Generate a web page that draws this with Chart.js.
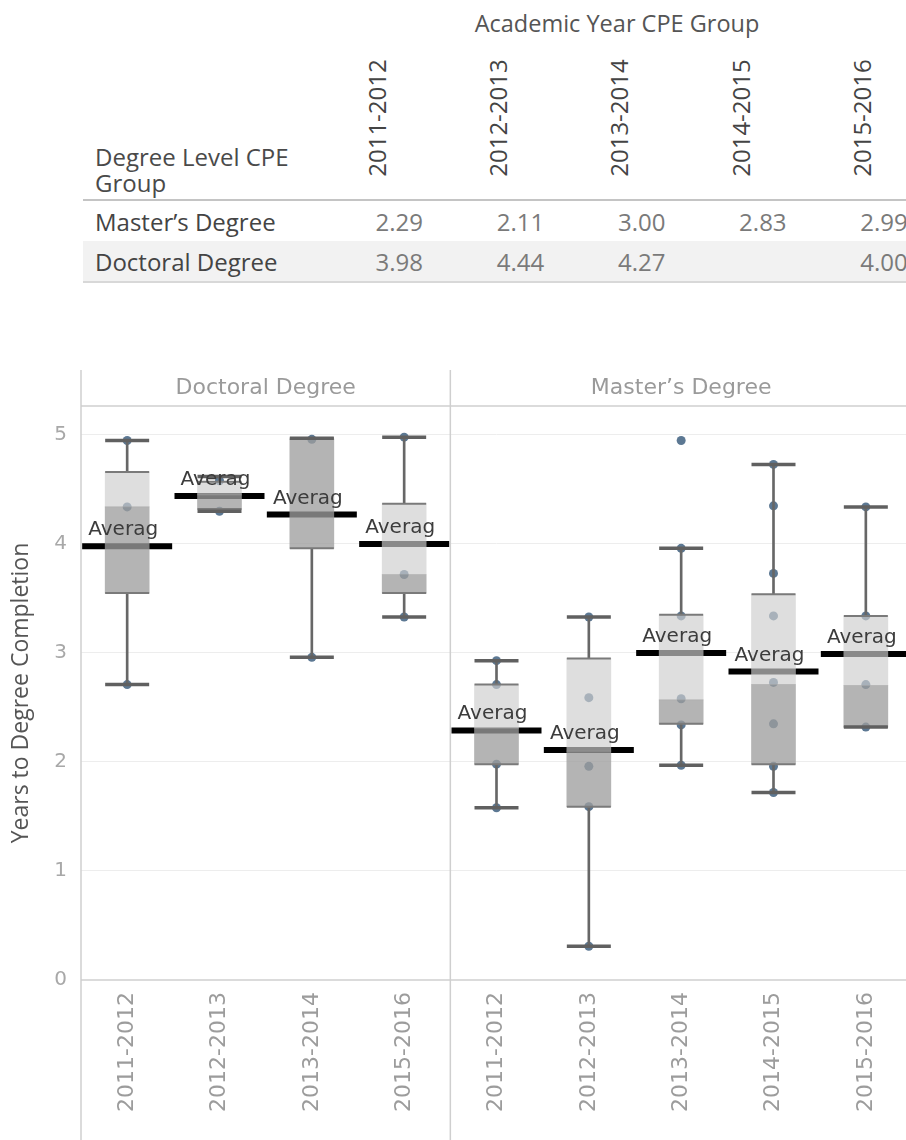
<!DOCTYPE html>
<html><head><meta charset="utf-8">
<script src="https://cdn.jsdelivr.net/npm/chart.js@4.4.1/dist/chart.umd.min.js"></script>
<style>
html,body{margin:0;padding:0;width:906px;height:1140px;overflow:hidden;background:#fff;}
#tbl{position:absolute;left:0;top:0;width:906px;height:295px;font-family:'Open Sans',sans-serif;overflow:hidden;}
#tbl div{position:absolute;white-space:nowrap;}
#wrap{position:absolute;left:0;top:360px;width:912px;height:780px;}
</style></head><body>
<div id="tbl"></div>
<div id="wrap"><canvas id="c"></canvas></div>
<script>
// ---- table data ----
const tableTitle = 'Academic Year CPE Group';
const rowHeaderLines = ['Degree Level CPE', 'Group'];
const years = ['2011-2012','2012-2013','2013-2014','2014-2015','2015-2016'];
const degreeRows = ['Master’s Degree', 'Doctoral Degree'];
const masterAvg = [2.29, 2.11, 3.00, 2.83, 2.99];
const doctoralAvg = [3.98, 4.44, 4.27, null, 4.00];

// ---- box plot data ----
const panelNames = ['Doctoral Degree', 'Master’s Degree'];
const xLabels = ['2011-2012','2012-2013','2013-2014','2015-2016','2011-2012','2012-2013','2013-2014','2014-2015','2015-2016'];
const whiskerLow  = [2.71, 4.30, 2.96, 3.33, 1.58, 0.31, 1.97, 1.72, 2.32];
const q1          = [3.55, 4.32, 3.96, 3.55, 1.98, 1.59, 2.35, 1.98, 2.32];
const median      = [4.34, 4.45, 4.96, 3.72, 2.31, 2.10, 2.57, 2.71, 2.70];
const q3          = [4.66, 4.57, 4.97, 4.37, 2.71, 2.95, 3.35, 3.54, 3.34];
const whiskerHigh = [4.95, 4.62, 4.97, 4.98, 2.93, 3.33, 3.96, 4.73, 4.34];
const pointValues = [
  [4.95, 4.34, 2.71],
  [4.58, 4.30],
  [4.96, 2.96],
  [4.98, 3.72, 3.33],
  [2.93, 2.71, 1.98, 1.58],
  [3.33, 2.59, 1.96, 1.59, 0.31],
  [4.95, 3.96, 3.34, 2.58, 2.34, 1.97],
  [4.73, 4.35, 3.73, 3.34, 2.73, 2.35, 1.96, 1.72],
  [4.34, 3.34, 2.71, 2.32]
];
const avgLabelText = 'Averag';
const yTitle = 'Years to Degree Completion';
const yTicks = [0, 1, 2, 3, 4, 5];

// ---- build table ----
const T = document.getElementById('tbl');
function add(txt, css) { const d = document.createElement('div'); d.textContent = txt; Object.assign(d.style, css); T.appendChild(d); return d; }
const colX0 = 377, colStep = 121.2;
add(tableTitle, {left:'417px', top:'6px', width:'400px', textAlign:'center', lineHeight:'34px', fontSize:'23.5px', color:'#555'});
years.forEach((y, j) => {
  const cx = colX0 + j * colStep;
  add(y, {left:(cx-70)+'px', top:'101px', width:'140px', height:'34px', lineHeight:'34px', textAlign:'center', fontSize:'24px', color:'#444', transform:'rotate(-90deg)'});
});
rowHeaderLines.forEach((t, k) => add(t, {left:'95px', top:(140 + k*26)+'px', lineHeight:'34px', fontSize:'24px', color:'#4a4a4a'}));
add('', {left:'83px', top:'241px', width:'830px', height:'40px', background:'#f2f2f2'});
add('', {left:'83px', top:'199px', width:'830px', height:'2px', background:'#c4c4c4'});
add('', {left:'83px', top:'281px', width:'830px', height:'2px', background:'#d8d8d8'});
const rowData = [masterAvg, doctoralAvg];
degreeRows.forEach((r, k) => {
  const cy = 222 + k * 40;
  add(r, {left:'95px', top:(cy-17)+'px', lineHeight:'34px', fontSize:'24px', color:'#444'});
  rowData[k].forEach((v, j) => {
    if (v === null) return;
    const right = colX0 + 46 + j * colStep;
    add(v.toFixed(2), {left:(right-100)+'px', top:(cy-17)+'px', width:'100px', textAlign:'right', lineHeight:'34px', fontSize:'24px', color:'#7a7a7a'});
  });
});

// ---- chart ----
const idx = xLabels.map((_, i) => i);
const avgLine = doctoralAvg.filter(v => v !== null).concat(masterAvg);
const rangeData = (lo, hi) => idx.map(i => ({x: i, y: [lo[i], hi[i]]}));
const pointData = arr => idx.map(i => ({x: i, y: arr[i]}));
const dots = pointValues.flatMap((a, i) => a.map(v => ({x: i, y: v})));

const framePlugin = {
  id: 'frame',
  beforeDatasetsDraw(chart) {
    const {ctx, chartArea: a, scales: {x}} = chart;
    const L = x.getPixelForValue(-0.5), D = x.getPixelForValue(3.5), R = x.getPixelForValue(8.5);
    ctx.save();
    ctx.strokeStyle = '#cfcfcf'; ctx.lineWidth = 1.5;
    ctx.beginPath();
    ctx.moveTo(L, 10); ctx.lineTo(L, chart.height);
    ctx.moveTo(D, 10); ctx.lineTo(D, chart.height);
    ctx.moveTo(L, a.top); ctx.lineTo(chart.width, a.top);
    ctx.moveTo(L, a.bottom); ctx.lineTo(chart.width, a.bottom);
    ctx.stroke();
    ctx.fillStyle = '#9a9a9a';
    ctx.font = '22px "DejaVu Sans"';
    ctx.textAlign = 'center'; ctx.textBaseline = 'middle';
    ctx.fillText(panelNames[0], (L + D) / 2, 28);
    ctx.fillText(panelNames[1], (D + R) / 2, 28);
    ctx.restore();
  },
  afterDatasetsDraw(chart) {
    const {ctx} = chart;
    const meta = chart.getDatasetMeta(0);
    ctx.save();
    ctx.font = '20px "DejaVu Sans"';
    ctx.fillStyle = '#3c3c3c';
    ctx.textAlign = 'center'; ctx.textBaseline = 'alphabetic';
    meta.data.forEach(p => ctx.fillText(avgLabelText, p.x - 4, p.y - 11));
    ctx.restore();
  }
};

new Chart(document.getElementById('c'), {
  type: 'bar',
  data: {
    datasets: [
      {type:'line', data: pointData(avgLine), showLine:false, pointStyle:'line', pointRadius:45, pointBorderWidth:6, borderColor:'#000', pointBorderColor:'#000', order:10},
      {type:'line', data: dots, showLine:false, pointStyle:'circle', pointRadius:4.5, pointBorderWidth:0, pointBackgroundColor:'#5c7893', order:9},
      {data: rangeData(q1, median), backgroundColor:'rgba(158,158,158,0.77)', barThickness:44, grouped:false, borderWidth:0, order:8},
      {data: rangeData(median, q3), backgroundColor:'rgba(206,206,206,0.67)', barThickness:44, grouped:false, borderWidth:0, order:8},
      {data: rangeData(q3, whiskerHigh), backgroundColor:'#676767', barThickness:2, grouped:false, borderWidth:0, order:5},
      {data: rangeData(whiskerLow, q1), backgroundColor:'#676767', barThickness:2, grouped:false, borderWidth:0, order:5},
      {type:'line', data: pointData(q1).concat(pointData(q3)), showLine:false, pointStyle:'line', pointRadius:22, pointBorderWidth:2, pointBorderColor:'#7a7a7a', order:4},
      {type:'line', data: pointData(whiskerLow).concat(pointData(whiskerHigh)), showLine:false, pointStyle:'line', pointRadius:22, pointBorderWidth:3.5, pointBorderColor:'#606060', order:3}
    ]
  },
  options: {
    responsive: true, maintainAspectRatio: false, animation: false, events: [],
    layout: {autoPadding: false, padding: {top: 46, left: 0, right: 0, bottom: 0}},
    plugins: {legend: {display: false}, tooltip: {enabled: false}},
    scales: {
      x: {
        type: 'linear', min: -0.5, max: 8.5, offset: false,
        grid: {display: false}, border: {display: false},
        afterBuildTicks: s => { s.ticks = idx.map(i => ({value: i})); },
        afterFit: s => { s.height = 160; s.paddingLeft = 0; s.paddingRight = 0; },
        ticks: {autoSkip: false, minRotation: 90, maxRotation: 90, padding: 4, color: '#9c9c9c',
          font: {family: 'DejaVu Sans', size: 22}, callback: v => xLabels[v]}
      },
      y: {
        type: 'linear', min: 0, max: 5.266,
        border: {display: false},
        grid: {drawTicks: false, color: c => (c.tick && c.tick.value === 0) ? 'rgba(0,0,0,0)' : '#ededed', lineWidth: 1},
        afterBuildTicks: s => { s.ticks = yTicks.map(v => ({value: v})); },
        afterFit: s => { s.width = 81; s.paddingTop = 0; s.paddingBottom = 0; },
        ticks: {padding: 14, color: '#a8a8a8', font: {family: 'DejaVu Sans', size: 20}},
        title: {display: true, text: yTitle, color: '#555', font: {family: 'Open Sans', size: 23}, padding: {top: 8, bottom: 0}}
      }
    }
  },
  plugins: [framePlugin]
});
</script>
</body></html>
